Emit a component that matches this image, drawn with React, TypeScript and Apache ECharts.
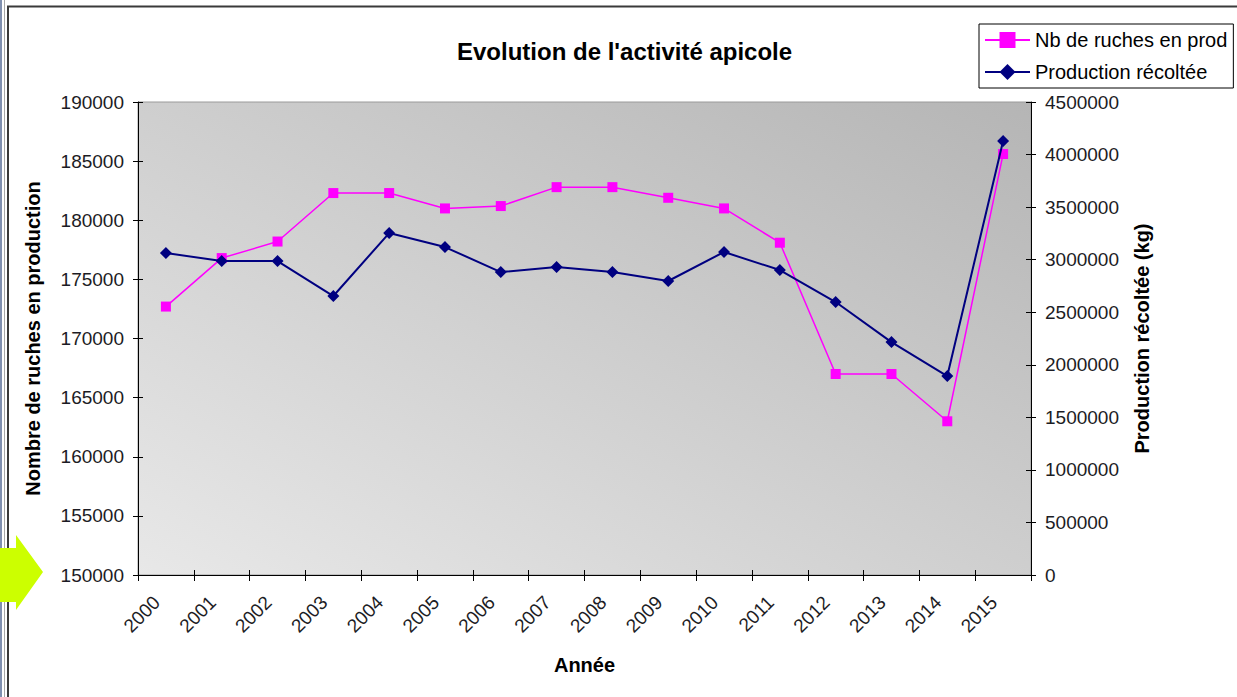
import React, { useEffect, useRef } from "react";
import * as echarts from "echarts";

const years = ["2000","2001","2002","2003","2004","2005","2006","2007","2008","2009","2010","2011","2012","2013","2014","2015"];
const ruches = [172700,176800,178200,182300,182300,181000,181200,182800,182800,181900,181000,178100,167000,167000,163000,185600];
const production = [3063000,2987000,2987000,2654000,3253000,3120000,2882000,2930000,2882000,2797000,3073000,2901000,2597000,2216000,1893000,4129000];

const seriesNames = ["Nb de ruches en prod", "Production récoltée"];
const titleText = "Evolution de l'activité apicole";
const leftAxisName = "Nombre de ruches en production";
const rightAxisName = "Production récoltée (kg)";
const xAxisName = "Année";

const FONT = "'Liberation Sans', Arial, sans-serif";

export default function App() {
  const ref = useRef<HTMLDivElement>(null);
  useEffect(() => {
    if (!ref.current) return;
    const chart = echarts.init(ref.current, null, { renderer: "svg" });
    const tickColor = "#000";
    const plain = (v: number) => String(v);
    const labelStyle = { color: "#1c1c24", fontSize: 19, fontFamily: FONT };
    const nameStyle = { color: "#000", fontSize: 20, fontWeight: "bold" as const, fontFamily: FONT };
    const dupY = (pos: "left" | "right", min: number, max: number, interval: number) => ({
      type: "value", position: pos, min, max, interval,
      axisLine: { show: false }, axisLabel: { show: false }, splitLine: { show: false },
      axisTick: { show: true, inside: true, length: 5, lineStyle: { color: tickColor } },
    });
    chart.setOption({
      animation: false,
      backgroundColor: "#fff",
      textStyle: { fontFamily: FONT },
      title: {
        text: titleText, left: 457, top: 39, padding: 0,
        textStyle: { fontSize: 24, fontWeight: "bold", color: "#000", fontFamily: FONT },
      },
      legend: {
        orient: "vertical", left: 979, top: 24,
        padding: [6, 6, 6, 5], itemGap: 12, itemWidth: 45, itemHeight: 20,
        borderColor: "#000", borderWidth: 1, backgroundColor: "#fff",
        textStyle: { fontSize: 20, color: "#000", fontFamily: FONT },
        data: seriesNames,
      },
      grid: {
        left: 138, right: 206, top: 102, bottom: 122,
        show: true, borderColor: "#9a9a9a", borderWidth: 1,
        backgroundColor: new echarts.graphic.LinearGradient(0, 1, 1, 0, [
          { offset: 0, color: "#e8e8e8" },
          { offset: 1, color: "#b5b5b5" },
        ]),
      },
      xAxis: [
        {
          type: "category", data: years, boundaryGap: true,
          name: xAxisName, nameLocation: "middle", nameGap: 80, nameTextStyle: nameStyle,
          axisLine: { lineStyle: { color: "#000", width: 1 } },
          axisTick: { show: true, inside: false, length: 6, interval: 0, lineStyle: { color: tickColor } },
          axisLabel: { ...labelStyle, rotate: 45, interval: 0, margin: 15, padding: [0, 13, 0, 0] },
          splitLine: { show: false },
        },
        {
          type: "category", data: years, boundaryGap: true, position: "bottom",
          axisLine: { show: false }, axisLabel: { show: false }, splitLine: { show: false },
          axisTick: { show: true, inside: true, length: 5, interval: 0, lineStyle: { color: tickColor } },
        },
      ],
      yAxis: [
        {
          type: "value", position: "left", min: 150000, max: 190000, interval: 5000,
          name: leftAxisName, nameLocation: "middle", nameGap: 95, nameRotate: 90, nameTextStyle: nameStyle,
          axisLine: { show: true, lineStyle: { color: "#000", width: 1 } },
          axisTick: { show: true, inside: false, length: 5, lineStyle: { color: tickColor } },
          axisLabel: { ...labelStyle, margin: 14, formatter: plain },
          splitLine: { show: false },
        },
        {
          type: "value", position: "right", min: 0, max: 4500000, interval: 500000,
          name: rightAxisName, nameLocation: "middle", nameGap: 101, nameRotate: 90, nameTextStyle: nameStyle,
          axisLine: { show: true, lineStyle: { color: "#000", width: 1 } },
          axisTick: { show: true, inside: false, length: 5, lineStyle: { color: tickColor } },
          axisLabel: { ...labelStyle, margin: 14, formatter: plain },
          splitLine: { show: false },
        },
        dupY("left", 150000, 190000, 5000),
        dupY("right", 0, 4500000, 500000),
      ],
      series: [
        {
          name: seriesNames[0], type: "line", xAxisIndex: 0, yAxisIndex: 0, data: ruches,
          symbol: "rect", symbolSize: 10,
          itemStyle: { color: "#ff00ff" },
          lineStyle: { color: "#ff00ff", width: 1.5 },
          z: 3,
        },
        {
          name: seriesNames[1], type: "line", xAxisIndex: 0, yAxisIndex: 1, data: production,
          symbol: "diamond", symbolSize: 12,
          itemStyle: { color: "#000080" },
          lineStyle: { color: "#000080", width: 2 },
          z: 4,
        },
      ],
      graphic: [
        { type: "line", shape: { x1: 1, y1: 0, x2: 1, y2: 697 }, style: { stroke: "#8090b0", lineWidth: 2 }, z: 10 },
        { type: "line", shape: { x1: 4.5, y1: 0, x2: 4.5, y2: 697 }, style: { stroke: "#a8a8a8", lineWidth: 1 }, z: 10 },
        { type: "line", shape: { x1: 8, y1: 6, x2: 8, y2: 697 }, style: { stroke: "#3a3a3a", lineWidth: 2 }, z: 10 },
        { type: "line", shape: { x1: 7, y1: 6.5, x2: 1237, y2: 6.5 }, style: { stroke: "#3a3a3a", lineWidth: 2 }, z: 10 },
        {
          type: "polygon", z: 20,
          shape: { points: [[0, 548], [16, 548], [16, 535], [43, 572], [16, 610], [16, 602], [0, 602]] },
          style: { fill: "#ccff00" },
        },
      ],
    });
    return () => chart.dispose();
  }, []);
  return (
    <div
      ref={ref}
      style={{ position: "fixed", left: 0, top: 0, width: 1237, height: 697 }}
    />
  );
}
